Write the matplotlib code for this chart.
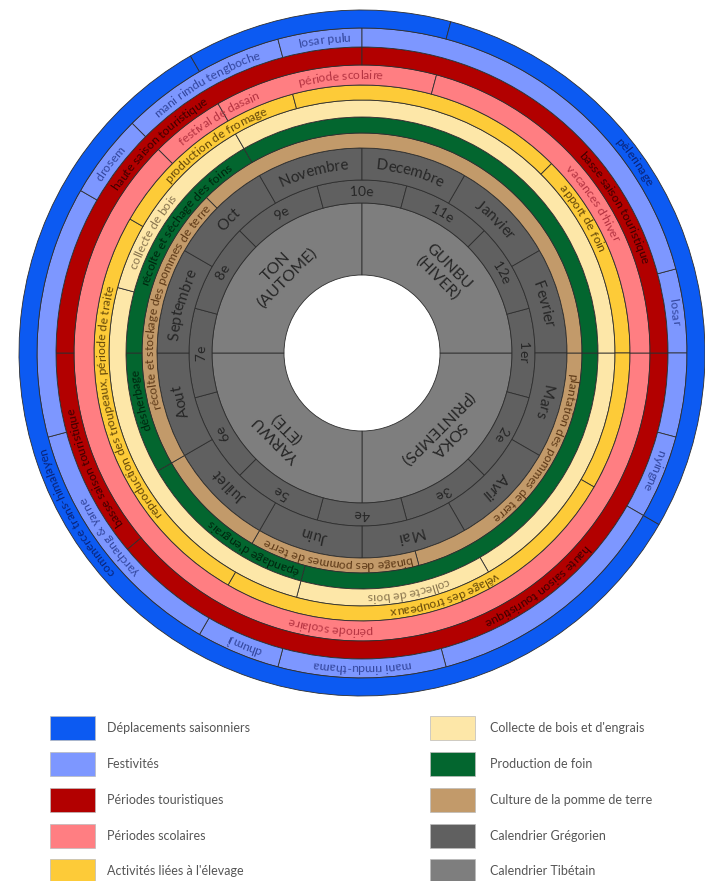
import numpy as np
import matplotlib
matplotlib.use("Agg")
import matplotlib.pyplot as plt
from matplotlib.patches import Rectangle
from matplotlib.font_manager import FontProperties
from matplotlib import font_manager
from matplotlib.ft2font import FT2Font
try:
    from matplotlib.ft2font import LoadFlags
    NOH = LoadFlags.NO_HINTING
except Exception:
    NOH = 2

plt.rcParams['font.family'] = ['Lato', 'DejaVu Sans']

# ---------------- data (positions in months counted from 1 January) -------------
greg_months = ["Janvier", "Fevrier", "Mars", "Avril", "Mai", "Juin", "Juillet",
               "Aout", "Septembre", "Oct", "Novembre", "Decembre"]
tib_months = ["1er", "2e", "3e", "4e", "5e", "6e", "7e", "8e", "9e", "10e", "11e", "12e"]
tib_start = 1.5
seasons = ["GUNBU\n(HIVER)", "SOKA\n(PRINTEMPS)", "YARWU\n(ETE)", "TON\n(AUTOME)"]
season_bounds = [11, 2, 5, 8]

potato_bounds = [2, 4.5, 6, 7, 9.5]
potato_labels = ["plantation des pommes de terre", "binage des pommes de terre",
                 "récolte et stockage des pommes de terre"]
potato_pos = [2.95, 5.23, 8.47]

hay_bounds = [2, 5.5, 7, 8, 10]
hay_labels = ["épandage d'engrais", "désherbage", "récolte et séchage des foins"]
hay_pos = [5.97, 7.6, 9.2]

wood_bounds = [2, 4, 5.5, 8.5, 10]
wood_labels = ["collecte de bois", "collecte de bois"]
wood_pos = [4.63, 9.0]

live_bounds = [0.5, 2, 3, 6, 9, 10.5]
live_labels = ["apport de foin", "vêlage des troupeaux",
               "reproduction des troupeaux, période de traite", "production de fromage"]
live_pos = [0.95, 4.37, 7.6, 9.83]

school_bounds = [2, 9.5, 10, 11.5]
school_labels = ["vacances d'hiver", "période scolaire", "festival de dasain", "période scolaire"]
school_pos = [0.9, 5.22, 9.95, 10.85]

tour_bounds = [2, 6.67, 8, 11]
tour_labels = ["basse saison touristique", "haute saison touristique",
               "basse saison touristique", "haute saison touristique"]
tour_pos = [1.0, 3.77, 7.23, 9.53]

fest_bounds = [1.5, 2, 2.5, 3, 4.5, 5.5, 6, 7.5, 9, 9.5, 10.5, 11]
fest_labels = ["losar", "nyingne", "mani rimdu-thama", "dhumji", "yarchang & yarne",
               "drosem", "mani rimdu tengboche", "losar pulu"]
fest_pos = [1.75, 2.73, 5.0, 5.73, 6.8, 9.23, 10.0, 10.77]

migr_bounds = [3, 10, 11.5]
migr_labels = ["pèlerinage", "commerce trans-himalayen"]
migr_pos = [0.83, 7.03]

legend_left = ["Déplacements saisonniers", "Festivités", "Périodes touristiques",
               "Périodes scolaires", "Activités liées à l'élevage"]
legend_right = ["Collecte de bois et d'engrais", "Production de foin",
                "Culture de la pomme de terre", "Calendrier Grégorien", "Calendrier Tibétain"]

# ---------------- styles ----------------
C_BLUE, C_LBLUE, C_RED, C_PINK, C_YEL = '#0c5af2', '#7d97ff', '#b20000', '#ff7e82', '#fdcb38'
C_CREAM, C_GREEN, C_TAN, C_GREG, C_TIB = '#fde7a8', '#03662f', '#c29a6a', '#606060', '#7e7e7e'
EDGE = '#2e2e2e'
DPI = 100
W, H = 705, 881
CX, CY, RMAX = 362, 353, 345

fig = plt.figure(figsize=(W / DPI, H / DPI), dpi=DPI)
ax = fig.add_axes([(CX - RMAX) / W, (H - CY - RMAX) / H, 2 * RMAX / W, 2 * RMAX / H],
                  projection='polar')
ax.set_ylim(0, RMAX)
ax.axis('off')

_font_cache = {}


def get_font(fp):
    path = font_manager.findfont(fp)
    key = (path, fp.get_size_in_points())
    if key not in _font_cache:
        f = FT2Font(path)
        f.set_size(fp.get_size_in_points(), DPI)
        _font_cache[key] = f
    return _font_cache[key]


def glyph_layout(s, fp):
    font = get_font(fp)
    pen = 0.0
    centres, lo_all, hi_all = [], None, None
    for c in s:
        g = font.load_char(ord(c), flags=NOH)
        lo = pen + g.horiBearingX / 64
        hi = lo + g.width / 64
        centres.append((lo + hi) / 2)
        if c != ' ':
            lo_all = lo if lo_all is None else min(lo_all, lo)
            hi_all = hi if hi_all is None else max(hi_all, hi)
        pen += g.linearHoriAdvance / 65536
    return centres, lo_all, hi_all


def ang(t):
    return np.deg2rad(60 - 30 * t)


def curved_text(s, t, r, fs, color):
    fp = FontProperties(family=['Lato'], size=fs)
    centres, lo, hi = glyph_layout(s, fp)
    mid_all = (lo + hi) / 2
    thc = ang(t)
    rb = r - 0.33 * fs * DPI / 72
    for c, x in zip(s, centres):
        if c == ' ':
            continue
        th = thc - (x - mid_all) / r
        ax.text(th, rb, c, rotation=np.rad2deg(th) - 90, rotation_mode='anchor',
                ha='center', va='baseline', fontproperties=fp, color=color)


def ring(bounds, r0, r1, color):
    b = sorted(bounds)
    segs = [(b[i], b[i + 1]) for i in range(len(b) - 1)] + [(b[-1], b[0] + 12)]
    for a, e in segs:
        ax.bar(ang((a + e) / 2), r1 - r0, width=np.deg2rad(30 * (e - a)), bottom=r0,
               color=color, edgecolor=EDGE, linewidth=0.6, align='center')


rings = [
    (potato_bounds, potato_labels, potato_pos, C_TAN, '#5e3a18', 205, 220),
    (hay_bounds, hay_labels, hay_pos, C_GREEN, '#00260e', 220, 236),
    (wood_bounds, wood_labels, wood_pos, C_CREAM, '#8a7650', 236, 253),
    (live_bounds, live_labels, live_pos, C_YEL, '#65490a', 253, 268),
    (school_bounds, school_labels, school_pos, C_PINK, '#b53442', 268, 288),
    (tour_bounds, tour_labels, tour_pos, C_RED, '#3e0000', 288, 306),
    (fest_bounds, fest_labels, fest_pos, C_LBLUE, '#34479e', 306, 325),
    (migr_bounds, migr_labels, migr_pos, C_BLUE, '#0a2478', 325, 343),
]

# Tibetan seasons
ring(season_bounds, 78, 150, C_TIB)
season_centres = [(11 + 14) / 2, 3.5, 6.5, 9.5]
for lab, tc in zip(seasons, season_centres):
    th = ang(tc % 12)
    ax.text(th, 114, lab, rotation=np.rad2deg(th) - 90, rotation_mode='anchor',
            ha='center', va='center', fontsize=11.5, color='#262626', linespacing=1.15,
            multialignment='center')

# Tibetan months
ring([tib_start + i for i in range(12)], 150, 173, C_GREG)
for i, lab in enumerate(tib_months):
    curved_text(lab, (tib_start + i + 0.5) % 12, 161.5, 10, '#262626')

# Gregorian months
ring(list(range(12)), 173, 205, C_GREG)
for i, lab in enumerate(greg_months):
    curved_text(lab, i + 0.5, 189, 11, '#262626')

for bounds, labels, pos, col, tcol, r0, r1 in rings:
    ring(bounds, r0, r1, col)
    for lab, p in zip(labels, pos):
        curved_text(lab, p, (r0 + r1) / 2, 8.8, tcol)

# ---------------- legend ----------------
lax = fig.add_axes([0, 0, 1, 1])
lax.set_xlim(0, W)
lax.set_ylim(H, 0)
lax.axis('off')
left_cols = [C_BLUE, C_LBLUE, C_RED, C_PINK, C_YEL]
right_cols = [C_CREAM, C_GREEN, C_TAN, C_GREG, C_TIB]
row_y = [728, 764, 800, 836, 871]
for i in range(5):
    y = row_y[i]
    lax.add_patch(Rectangle((50, y - 12), 45, 24, facecolor=left_cols[i],
                            edgecolor='#bbbbbb', linewidth=0.5))
    lax.text(107, y, legend_left[i], ha='left', va='center', fontsize=9, color='#555555')
    lax.add_patch(Rectangle((430, y - 12), 45, 24, facecolor=right_cols[i],
                            edgecolor='#bbbbbb', linewidth=0.5))
    lax.text(490, y, legend_right[i], ha='left', va='center', fontsize=9, color='#555555')

fig.savefig('out.png', dpi=DPI)
